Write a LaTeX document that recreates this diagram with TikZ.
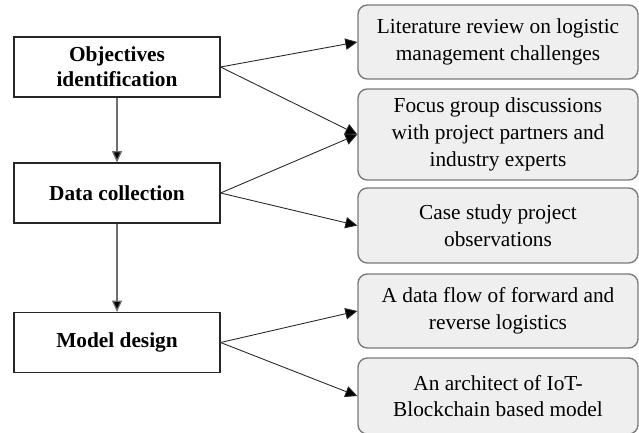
\documentclass[tikz,border=0pt]{standalone}
\usepackage{fontspec}
\setmainfont{Liberation Serif}
\usetikzlibrary{arrows.meta}
\definecolor{boxfill}{HTML}{EFEFEF}
\definecolor{boxline}{HTML}{7A7A7A}
\definecolor{flowline}{HTML}{6E6E6E}
\begin{document}
\begin{tikzpicture}[x=0.75pt,y=-0.75pt,
  stagebox/.style={draw=black!85, line width=0.8pt, fill=white, minimum width=206*0.75pt,
    minimum height=60*0.75pt, align=center, font=\fontsize{16}{19}\selectfont\bfseries, inner sep=2pt},
  taskbox/.style={draw=boxline, line width=1pt, fill=boxfill, rounded corners=7pt,
    minimum width=280*0.75pt, align=center, font=\fontsize{16}{20}\selectfont, inner sep=2pt},
  link/.style={draw=black!85, line width=0.65pt, -{Triangle[length=9pt,width=8.5pt,fill=black]}},
  flow/.style={draw=flowline, line width=1pt, -{Triangle[length=8.5pt,width=7.5pt,fill=black]}}
]
\useasboundingbox[fill=white] (0,0) rectangle (639,432);

% stages on the left
\node[stagebox] (obj) at (117,67) {Objectives\\identification};
\node[stagebox] (data) at (117,193) {Data collection};
\node[stagebox] (model) at (117,342.5) {Model design};

% activities on the right
\node[taskbox, minimum height=74*0.75pt] (lit) at (498,42) {Literature review on logistic\\management challenges};
\node[taskbox, minimum height=91*0.75pt] (focus) at (498,134.5) {Focus group discussions\\with project partners and\\industry experts};
\node[taskbox, minimum height=75*0.75pt] (case) at (498,225.5) {Case study project\\observations};
\node[taskbox, minimum height=74*0.75pt] (flowd) at (498,311) {A data flow of forward and\\reverse logistics};
\node[taskbox, minimum height=76*0.75pt] (arch) at (498,396) {An architect of IoT-\\Blockchain based model};

% main sequence
\draw[flow] (obj.south) -- (data.north);
\draw[flow] (data.south) -- (model.north);

% stage to activity links
\draw[link] (obj.east) -- (lit.west);
\draw[link] (obj.east) -- (focus.west);
\draw[link] (data.east) -- (focus.west);
\draw[link] (data.east) -- (case.west);
\draw[link] (model.east) -- (flowd.west);
\draw[link] (model.east) -- (arch.west);
\end{tikzpicture}
\end{document}
